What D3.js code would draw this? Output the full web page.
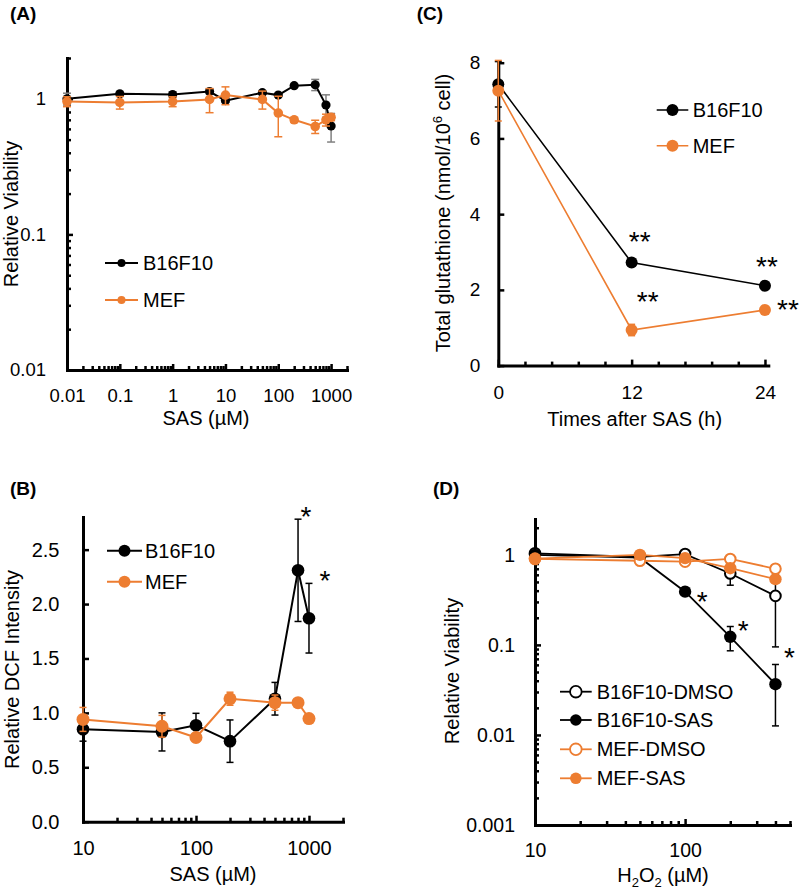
<!DOCTYPE html>
<html><head><meta charset="utf-8">
<script src="https://cdn.jsdelivr.net/npm/d3@7"></script>
<style>body{margin:0;background:#fff}svg{display:block}</style>
</head><body>
<script>
// ---------------- DATA ----------------
// Panel A
const sasA = [0.01, 0.1, 1, 5, 10, 50, 100, 200, 500, 800, 1000];
const aB16 = [1.0, 1.09, 1.075, 1.13, 0.97, 1.11, 1.065, 1.25, 1.27, 0.90, 0.63];
const aB16Err = [0.1, 0.03, 0.05, 0.04, 0.03, 0.03, 0.03, 0.03, 0.12, 0.17, 0.15];
const aMEF = [0.955, 0.94, 0.955, 0.99, 1.065, 0.99, 0.785, 0.70, 0.625, 0.70, 0.73];
const aMEFErr = [0.08, 0.1, 0.08, 0.2, 0.16, 0.15, 0.26, 0.03, 0.07, 0.07, 0.04];
const aXTicks = [0.01, 0.1, 1, 10, 100, 1000];
const aYTicks = [0.01, 0.1, 1];
// Panel B
const sasB = [10, 50, 100, 200, 500, 800, 1000];
const bB16 = [0.85, 0.825, 0.886, 0.74, 1.13, 2.31, 1.87];
const bB16Err = [0.11, 0.175, 0.11, 0.195, 0.15, 0.47, 0.32];
const bMEF = [0.94, 0.877, 0.774, 1.13, 1.094, 1.094, 0.948];
const bMEFErr = [0.11, 0.1, 0.04, 0.06, 0.07, 0.02, 0.02];
const bXTicks = [10, 100, 1000];
const bYTicks = [0, 0.5, 1.0, 1.5, 2.0, 2.5];
const bStars = [{x: 800, label: "*"}, {x: 1000, label: "*"}];
// Panel C
const timeC = [0, 12, 24];
const cB16 = [7.43, 2.72, 2.11];
const cB16Err = [0.6, 0.08, 0.08];
const cMEF = [7.26, 0.94, 1.47];
const cMEFErr = [0.8, 0.15, 0.08];
const cXTicks = [0, 12, 24];
const cYTicks = [0, 2, 4, 6, 8];
const cStarsB16 = ["", "**", "**"];
const cStarsMEF = ["", "**", "**"];
// Panel D
const h2o2D = [10, 50, 100, 200, 400];
const dB16Dmso = [1.04, 0.95, 1.02, 0.62, 0.35];
const dB16DmsoErr = [0.02, 0.02, 0.03, 0.16, 0.255];
const dB16Sas = [1.0, 0.93, 0.39, 0.123, 0.0366];
const dB16SasErr = [0.02, 0.02, 0.02, 0.037, 0.024];
const dMefDmso = [0.90, 0.86, 0.84, 0.90, 0.70];
const dMefDmsoErr = [0.02, 0.02, 0.02, 0.03, 0.03];
const dMefSas = [0.91, 1.0, 0.92, 0.71, 0.537];
const dMefSasErr = [0.02, 0.02, 0.02, 0.03, 0.03];
const dXTicks = [10, 100];
const dYTicks = [0.001, 0.01, 0.1, 1];
const dStars = ["", "", "*", "*", "*"];

// ---------------- DRAWING ----------------
const BLACK = "#000", ORANGE = "#ED7D31";
const FONT = "'Liberation Sans', Arial, Helvetica, sans-serif";
const svg = d3.select("body").append("svg").attr("width", 800).attr("height", 890)
  .attr("font-family", FONT);

function logMinor(lo, hi) {
  const out = [];
  for (let e = Math.floor(Math.log10(lo)); e <= Math.ceil(Math.log10(hi)); e++) {
    for (let n = 2; n <= 9; n++) {
      const v = n * Math.pow(10, e);
      if (v >= lo * 0.999 && v <= hi * 1.001) out.push(v);
    }
  }
  return out;
}
function fmtLog(v) { return d3.format("~g")(v); }

function drawAxes(g, x, y, o) {
  const y0 = y.range()[0], x0 = x.range()[0];
  if (o.xMinor) g.append("g").attr("transform", `translate(0,${y0})`)
    .call(d3.axisBottom(x).tickValues(o.xMinor).tickFormat("").tickSizeInner(-4).tickSizeOuter(0))
    .call(s => s.select(".domain").remove())
    .selectAll("line").attr("stroke-width", 2.5);
  if (o.yMinor) g.append("g").attr("transform", `translate(${x0},0)`)
    .call(d3.axisLeft(y).tickValues(o.yMinor).tickFormat("").tickSizeInner(-4).tickSizeOuter(0))
    .call(s => s.select(".domain").remove())
    .selectAll("line").attr("stroke-width", 2.5);
  const gx = g.append("g").attr("transform", `translate(0,${y0})`)
    .call(d3.axisBottom(x).tickValues(o.xTicks).tickFormat(o.xFmt)
      .tickSizeInner(-6).tickSizeOuter(0).tickPadding(o.xPad));
  const gy = g.append("g").attr("transform", `translate(${x0},0)`)
    .call(d3.axisLeft(y).tickValues(o.yTicks).tickFormat(o.yFmt)
      .tickSizeInner(-6).tickSizeOuter(0).tickPadding(o.yPad));
  [gx, gy].forEach(a => {
    a.attr("font-size", o.fs).attr("font-family", FONT);
    a.select(".domain").attr("stroke-width", 3).attr("stroke-linecap", "square");
    a.selectAll(".tick line").attr("stroke-width", 2.5);
    a.selectAll(".tick text").attr("fill", "#000");
  });
}

function drawSeries(g, x, y, xs, ys, errs, s) {
  const pts = xs.map((v, i) => ({x: v, y: ys[i], e: errs ? errs[i] : 0}));
  const eb = g.append("g").attr("stroke", s.errColor || s.color).attr("stroke-width", 1.5);
  pts.forEach(p => {
    if (!p.e) return;
    const lo = Math.max(p.y - p.e, y.domain()[0]), hi = p.y + p.e;
    const cx = x(p.x);
    eb.append("line").attr("x1", cx).attr("x2", cx).attr("y1", y(lo)).attr("y2", y(hi));
    eb.append("line").attr("x1", cx - s.cap).attr("x2", cx + s.cap).attr("y1", y(hi)).attr("y2", y(hi));
    if (p.y - p.e > y.domain()[0])
      eb.append("line").attr("x1", cx - s.cap).attr("x2", cx + s.cap).attr("y1", y(lo)).attr("y2", y(lo));
  });
  g.append("path").datum(pts).attr("fill", "none").attr("stroke", s.color).attr("stroke-width", s.lw)
    .attr("d", d3.line().x(d => x(d.x)).y(d => y(d.y)));
  g.append("g").selectAll("circle").data(pts).join("circle")
    .attr("cx", d => x(d.x)).attr("cy", d => y(d.y)).attr("r", s.r)
    .attr("fill", s.open ? "#fff" : s.color).attr("stroke", s.color).attr("stroke-width", s.open ? 2 : 0);
}

function legend(g, items, lx0, lx1, tx, ys, r) {
  items.forEach((it, i) => {
    const yy = ys[i];
    g.append("line").attr("x1", lx0).attr("x2", lx1).attr("y1", yy).attr("y2", yy)
      .attr("stroke", it.color).attr("stroke-width", it.lw);
    g.append("circle").attr("cx", (lx0 + lx1) / 2).attr("cy", yy).attr("r", r)
      .attr("fill", it.open ? "#fff" : it.color).attr("stroke", it.color).attr("stroke-width", it.open ? 1.8 : 0);
    g.append("text").attr("x", tx).attr("y", yy).attr("dy", "0.35em").attr("font-size", 20).text(it.name);
  });
}

function star(g, px, py, label) {
  // py = visual centre of asterisk glyph
  g.append("text").attr("x", px).attr("y", py + 16).attr("text-anchor", "middle")
    .attr("font-size", 28).text(label);
}

function panelLabel(t, x, y) {
  svg.append("text").attr("x", x).attr("y", y).attr("font-size", 19).attr("font-weight", "bold").text(t);
}
function yTitle(g, t, x, y) {
  return g.append("text").attr("transform", `translate(${x},${y}) rotate(-90)`)
    .attr("text-anchor", "middle").attr("font-size", 20).text(t);
}
function xTitle(g, t, x, y) {
  return g.append("text").attr("x", x).attr("y", y).attr("text-anchor", "middle").attr("font-size", 20).text(t);
}

// ---- Panel A ----
{
  const g = svg.append("g");
  const x = d3.scaleLog().domain([0.01, 2000]).range([67, 347]);
  const y = d3.scaleLog().domain([0.01, 2]).range([370, 58]);
  drawAxes(g, x, y, {xTicks: aXTicks, yTicks: aYTicks, xFmt: fmtLog, yFmt: fmtLog,
    xMinor: logMinor(0.01, 2000), yMinor: logMinor(0.01, 2), xPad: 18.6, yPad: 21, fs: 18.5});
  drawSeries(g, x, y, sasA, aB16, aB16Err, {color: BLACK, errColor: "#808080", lw: 2, r: 4.6, cap: 4});
  drawSeries(g, x, y, sasA, aMEF, aMEFErr, {color: ORANGE, lw: 2, r: 4.8, cap: 4});
  legend(g, [{name: "B16F10", color: BLACK, lw: 2}, {name: "MEF", color: ORANGE, lw: 2}], 105, 138, 143, [263, 300], 4);
  yTitle(g, "Relative Viability", 17.5, 214);
  xTitle(g, "SAS (µM)", 206, 425);
  panelLabel("(A)", 10, 19.5);
}

// ---- Panel B ----
{
  const g = svg.append("g");
  const x = d3.scaleLog().domain([10, 2000]).range([83, 343]);
  const y = d3.scaleLinear().domain([0, 2.8]).range([821.7, 517]);
  drawAxes(g, x, y, {xTicks: bXTicks, yTicks: bYTicks, xFmt: fmtLog, yFmt: d3.format(".1f"),
    xMinor: logMinor(10, 2000), yMinor: null, xPad: 19, yPad: 23.5, fs: 20});
  drawSeries(g, x, y, sasB, bB16, bB16Err, {color: BLACK, lw: 2, r: 6.3, cap: 3.5});
  drawSeries(g, x, y, sasB, bMEF, bMEFErr, {color: ORANGE, lw: 2, r: 6.5, cap: 3.5});
  bStars.forEach(s => {
    const i = sasB.indexOf(s.x);
    const top = y(bB16[i] + bB16Err[i]);
    star(g, x(s.x) + (s.x === 800 ? 8 : 16), top - 9, s.label);
  });
  legend(g, [{name: "B16F10", color: BLACK, lw: 2}, {name: "MEF", color: ORANGE, lw: 2}], 107, 142, 145, [550.7, 581.7], 6);
  yTitle(g, "Relative DCF Intensity", 19, 669.5);
  xTitle(g, "SAS (µM)", 213, 880.5);
  panelLabel("(B)", 10, 495);
}

// ---- Panel C ----
{
  const g = svg.append("g");
  const x = d3.scaleLinear().domain([0, 24.3]).range([498.3, 768.3]);
  const y = d3.scaleLinear().domain([0, 8]).range([365.6, 62.7]);
  const minorX = d3.range(1, 11).map(i => i * 2.4).filter(v => v !== 12 && v !== 24);
  drawAxes(g, x, y, {xTicks: cXTicks, yTicks: cYTicks, xFmt: d3.format("d"), yFmt: d3.format("d"),
    xMinor: minorX, yMinor: null, xPad: 19.8, yPad: 18, fs: 19});
  drawSeries(g, x, y, timeC, cB16, cB16Err, {color: BLACK, lw: 1.6, r: 6, cap: 3.5});
  drawSeries(g, x, y, timeC, cMEF, cMEFErr, {color: ORANGE, lw: 1.6, r: 6, cap: 3.5});
  const offB = [[0, 0], [8, -28], [2, -26]];
  const offM = [[0, 0], [16, -35], [23, -7]];
  timeC.forEach((t, i) => {
    if (cStarsB16[i]) star(g, x(t) + offB[i][0], y(cB16[i]) + offB[i][1], cStarsB16[i]);
    if (cStarsMEF[i]) star(g, x(t) + offM[i][0], y(cMEF[i]) + offM[i][1], cStarsMEF[i]);
  });
  legend(g, [{name: "B16F10", color: BLACK, lw: 1.6}, {name: "MEF", color: ORANGE, lw: 1.6}], 656.7, 688.3, 692.7, [110, 145.7], 6);
  const t = g.append("text").attr("transform", "translate(450,213) rotate(-90)")
    .attr("text-anchor", "middle").attr("font-size", 20);
  t.append("tspan").text("Total glutathione (nmol/10");
  t.append("tspan").attr("font-size", 13).attr("dy", -8).text("6");
  t.append("tspan").attr("dy", 8).text(" cell)");
  xTitle(g, "Times after SAS (h)", 634.7, 425.5);
  panelLabel("(C)", 416.7, 19.5);
}

// ---- Panel D ----
{
  const g = svg.append("g");
  const x = d3.scaleLog().domain([10, 500]).range([535, 790]);
  const y = d3.scaleLog().domain([0.001, 2.5]).range([825, 519]);
  drawAxes(g, x, y, {xTicks: dXTicks, yTicks: dYTicks, xFmt: fmtLog, yFmt: fmtLog,
    xMinor: logMinor(10, 500), yMinor: logMinor(0.001, 2.5), xPad: 18.6, yPad: 20, fs: 19.5});
  drawSeries(g, x, y, h2o2D, dB16Dmso, dB16DmsoErr, {color: BLACK, lw: 1.8, r: 5.3, cap: 3.5, open: true});
  drawSeries(g, x, y, h2o2D, dB16Sas, dB16SasErr, {color: BLACK, lw: 1.8, r: 6.2, cap: 3.5});
  drawSeries(g, x, y, h2o2D, dMefDmso, dMefDmsoErr, {color: ORANGE, lw: 1.8, r: 5.3, cap: 3.5, open: true});
  drawSeries(g, x, y, h2o2D, dMefSas, dMefSasErr, {color: ORANGE, lw: 1.8, r: 6.2, cap: 3.5});
  const offs = [null, null, [17, 3], [13, -13], [14, -33]];
  h2o2D.forEach((v, i) => {
    if (dStars[i]) star(g, x(v) + offs[i][0], y(dB16Sas[i]) + offs[i][1], dStars[i]);
  });
  legend(g, [
    {name: "B16F10-DMSO", color: BLACK, lw: 1.8, open: true},
    {name: "B16F10-SAS", color: BLACK, lw: 1.8},
    {name: "MEF-DMSO", color: ORANGE, lw: 1.8, open: true},
    {name: "MEF-SAS", color: ORANGE, lw: 1.8}], 560, 591.7, 596.7, [691.7, 720, 749.3, 778.3], 5.8);
  yTitle(g, "Relative Viability", 459, 671);
  const t = g.append("text").attr("x", 663).attr("y", 882).attr("text-anchor", "middle").attr("font-size", 20);
  t.append("tspan").text("H");
  t.append("tspan").attr("font-size", 13).attr("dy", 5).text("2");
  t.append("tspan").attr("dy", -5).text("O");
  t.append("tspan").attr("font-size", 13).attr("dy", 5).text("2");
  t.append("tspan").attr("dy", -5).text(" (µM)");
  panelLabel("(D)", 433, 495);
}
</script>
</body></html>
